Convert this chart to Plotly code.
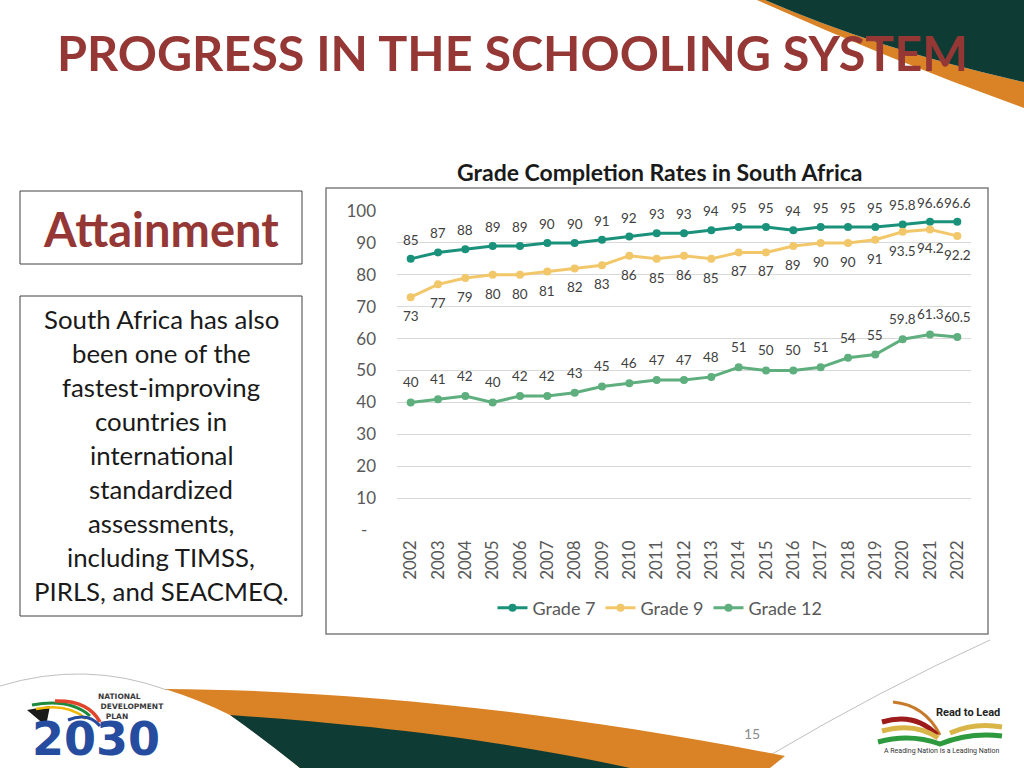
import plotly.graph_objects as go

# ---------------- data ----------------
years = [str(y) for y in range(2002, 2023)]
grade7 = [85, 87, 88, 89, 89, 90, 90, 91, 92, 93, 93, 94, 95, 95, 94, 95, 95, 95, 95.8, 96.6, 96.6]
grade9 = [73, 77, 79, 80, 80, 81, 82, 83, 86, 85, 86, 85, 87, 87, 89, 90, 90, 91, 93.5, 94.2, 92.2]
grade12 = [40, 41, 42, 40, 42, 42, 43, 45, 46, 47, 47, 48, 51, 50, 50, 51, 54, 55, 59.8, 61.3, 60.5]
series_names = ["Grade 7", "Grade 9", "Grade 12"]
y_ticks = [0, 10, 20, 30, 40, 50, 60, 70, 80, 90, 100]
y_ticktext = ["-\u00a0\u00a0"] + [str(v) for v in y_ticks[1:]]

title_text = "PROGRESS IN THE SCHOOLING SYSTEM"
chart_title = "Grade Completion Rates in South Africa"
side_heading = "Attainment"
side_lines = ["South Africa has also", "been one of the", "fastest-improving", "countries in",
              "international", "standardized", "assessments,", "including TIMSS,",
              "PIRLS, and SEACMEQ."]

# ---------------- styles ----------------
W, H = 1024, 768
FONT = "Lato"
C7, C9, C12 = "#1A917A", "#F2C76A", "#5EAE7E"
LABEL_C = "#404040"
AXIS_C = "#595959"
DARK_GREEN = "#0E3B34"
ORANGE = "#D98326"
RED_TITLE = "#953735"


def fmt(v):
    return str(int(v)) if float(v).is_integer() else f"{v:.1f}"


fig = go.Figure()

for name, vals, col in zip(series_names, [grade7, grade9, grade12], [C7, C9, C12]):
    fig.add_trace(go.Scatter(
        x=years, y=vals, name=name, mode="lines+markers",
        line=dict(color=col, width=3), marker=dict(color=col, size=8, symbol="circle"),
        xaxis="x", yaxis="y", hoverinfo="skip"))

annotations = []
# data labels (category index positions on the category axis)
for vals, shift in [(grade7, 19), (grade9, -19), (grade12, 20)]:
    for i, v in enumerate(vals):
        annotations.append(dict(x=i, y=v, xref="x", yref="y", text=fmt(v), showarrow=False,
                                yshift=shift, font=dict(family=FONT, size=13.5, color=LABEL_C)))


def pa(x, y, text, size, color, bold=False, xanchor="center", family=FONT, align="center",
       yanchor="middle"):
    t = f"<b>{text}</b>" if bold else text
    annotations.append(dict(x=x, y=y, xref="x2", yref="y2", text=t, showarrow=False,
                            xanchor=xanchor, yanchor=yanchor, align=align,
                            font=dict(family=family, size=size, color=color)))


# slide texts
pa(512, 52, title_text, 48.5, RED_TITLE, bold=True)
pa(660, 172, chart_title, 23, "#1A1A1A", bold=True)
pa(161, 229, side_heading, 47, RED_TITLE, bold=True)
for i, line in enumerate(side_lines):
    pa(161, 319 + 34 * i, line, 25.8, "#1A1A1A")
pa(752, 733, "15", 14, "#8C8C8C")
# logos (text parts)
pa(96, 706, "NATIONAL<br> DEVELOPMENT<br>   PLAN", 7.5, "#3A3A3A", bold=True, xanchor="left",
   family="DejaVu Sans", align="left")
pa(96, 768, "2030", 46, "#254C9E", bold=True, family="DejaVu Sans", yanchor="bottom")
pa(968, 712, "Read to Lead", 11, "#222222", bold=True, family="Roboto")
pa(942, 751, "A Reading Nation is a Leading Nation", 7, "#333333", family="Roboto")

shapes = []


def sh(**kw):
    kw.setdefault("xref", "x2")
    kw.setdefault("yref", "y2")
    shapes.append(kw)


# top-right decoration
sh(type="path", path="M 757,0 Q 890,60 1024,108 L 1024,82 Q 880,50 765,0 Z",
   fillcolor=ORANGE, line=dict(width=0), layer="below")
sh(type="path", path="M 765,0 L 1024,0 L 1024,82 Q 880,50 765,0 Z",
   fillcolor=DARK_GREEN, line=dict(width=0), layer="below")
# bottom decoration
sh(type="path", path="M 0,686 Q 85,660 167,690", line=dict(color="#BFBFBF", width=1), layer="below")
sh(type="path", path="M 767,757 Q 880,690 990,640", line=dict(color="#BFBFBF", width=1), layer="below")
sh(type="path", path="M 165,689 C 350,690 560,712 785,756 L 770,768 L 300,768 Q 260,735 230,715 Q 200,700 165,689 Z",
   fillcolor=ORANGE, line=dict(width=0), layer="below")
sh(type="path", path="M 230,715 C 330,722 480,735 630,768 L 300,768 Q 265,740 230,715 Z",
   fillcolor=DARK_GREEN, line=dict(width=0), layer="below")
# boxes
sh(type="rect", x0=20, y0=191, x1=302, y1=264, line=dict(color="#404040", width=1), layer="below")
sh(type="rect", x0=20, y0=296, x1=302, y1=616, line=dict(color="#404040", width=1), layer="below")
sh(type="rect", x0=326, y0=188, x1=988, y1=634, line=dict(color="#7F7F7F", width=1.5), layer="below")
# NDP flag swoosh
sh(type="path", path="M 27,710 L 50,706 L 46,726 Z", fillcolor="#1A1A1A", line=dict(width=0))
sh(type="path", path="M 32,705 Q 70,698 90,716", line=dict(color="#1E8A3C", width=3))
sh(type="path", path="M 36,709 Q 68,703 86,719", line=dict(color="#F2B705", width=2.5))
sh(type="path", path="M 55,701 Q 88,700 100,722", line=dict(color="#E0452B", width=3.5))
sh(type="path", path="M 68,720 Q 88,712 100,726", line=dict(color="#254C9E", width=3))
# Read to Lead swooshes
sh(type="path", path="M 893,702 Q 925,705 940,735", line=dict(color="#C77A2A", width=3))
sh(type="path", path="M 882,722 Q 915,712 937,735", line=dict(color="#9E1B1B", width=5))
sh(type="path", path="M 882,731 Q 915,722 938,738", line=dict(color="#D9B548", width=5))
sh(type="path", path="M 950,733 Q 975,722 1002,727", line=dict(color="#D9B548", width=5))
sh(type="path", path="M 878,742 Q 910,733 940,744 Q 970,732 1002,736", line=dict(color="#2E9A3E", width=5))

fig.update_layout(
    width=W, height=H, autosize=False, margin=dict(l=0, r=0, t=0, b=0, pad=0),
    paper_bgcolor="white", plot_bgcolor="rgba(0,0,0,0)",
    font=dict(family=FONT, color=AXIS_C),
    showlegend=True,
    legend=dict(orientation="h", x=660 / W, xanchor="center", y=1 - 608 / H, yanchor="middle",
                font=dict(family=FONT, size=18, color=AXIS_C), bgcolor="rgba(0,0,0,0)",
                itemwidth=30),
    xaxis=dict(domain=[397 / W, 971 / W], range=[-0.5, 20.5], type="category",
               tickangle=-90, tickfont=dict(family=FONT, size=17, color=AXIS_C),
               showgrid=False, showline=False, zeroline=False, ticks="", anchor="y",
               ticklabelstandoff=6, automargin=False),
    yaxis=dict(domain=[1 - 530 / H, 1 - 211 / H], range=[0, 100], tickvals=y_ticks, ticktext=y_ticktext,
               tickfont=dict(family=FONT, size=17, color=AXIS_C), gridcolor="#D9D9D9", gridwidth=1,
               showline=False, zeroline=False, ticks="", anchor="x", ticklabelstandoff=20,
               automargin=False),
    xaxis2=dict(domain=[0, 1], range=[0, W], visible=False, anchor="y2", fixedrange=True),
    yaxis2=dict(domain=[0, 1], range=[H, 0], visible=False, anchor="x2", fixedrange=True),
    annotations=annotations, shapes=shapes,
)

fig.write_html("out.html", config={"displayModeBar": False, "responsive": False},
               post_script="document.body.style.margin='0';")
